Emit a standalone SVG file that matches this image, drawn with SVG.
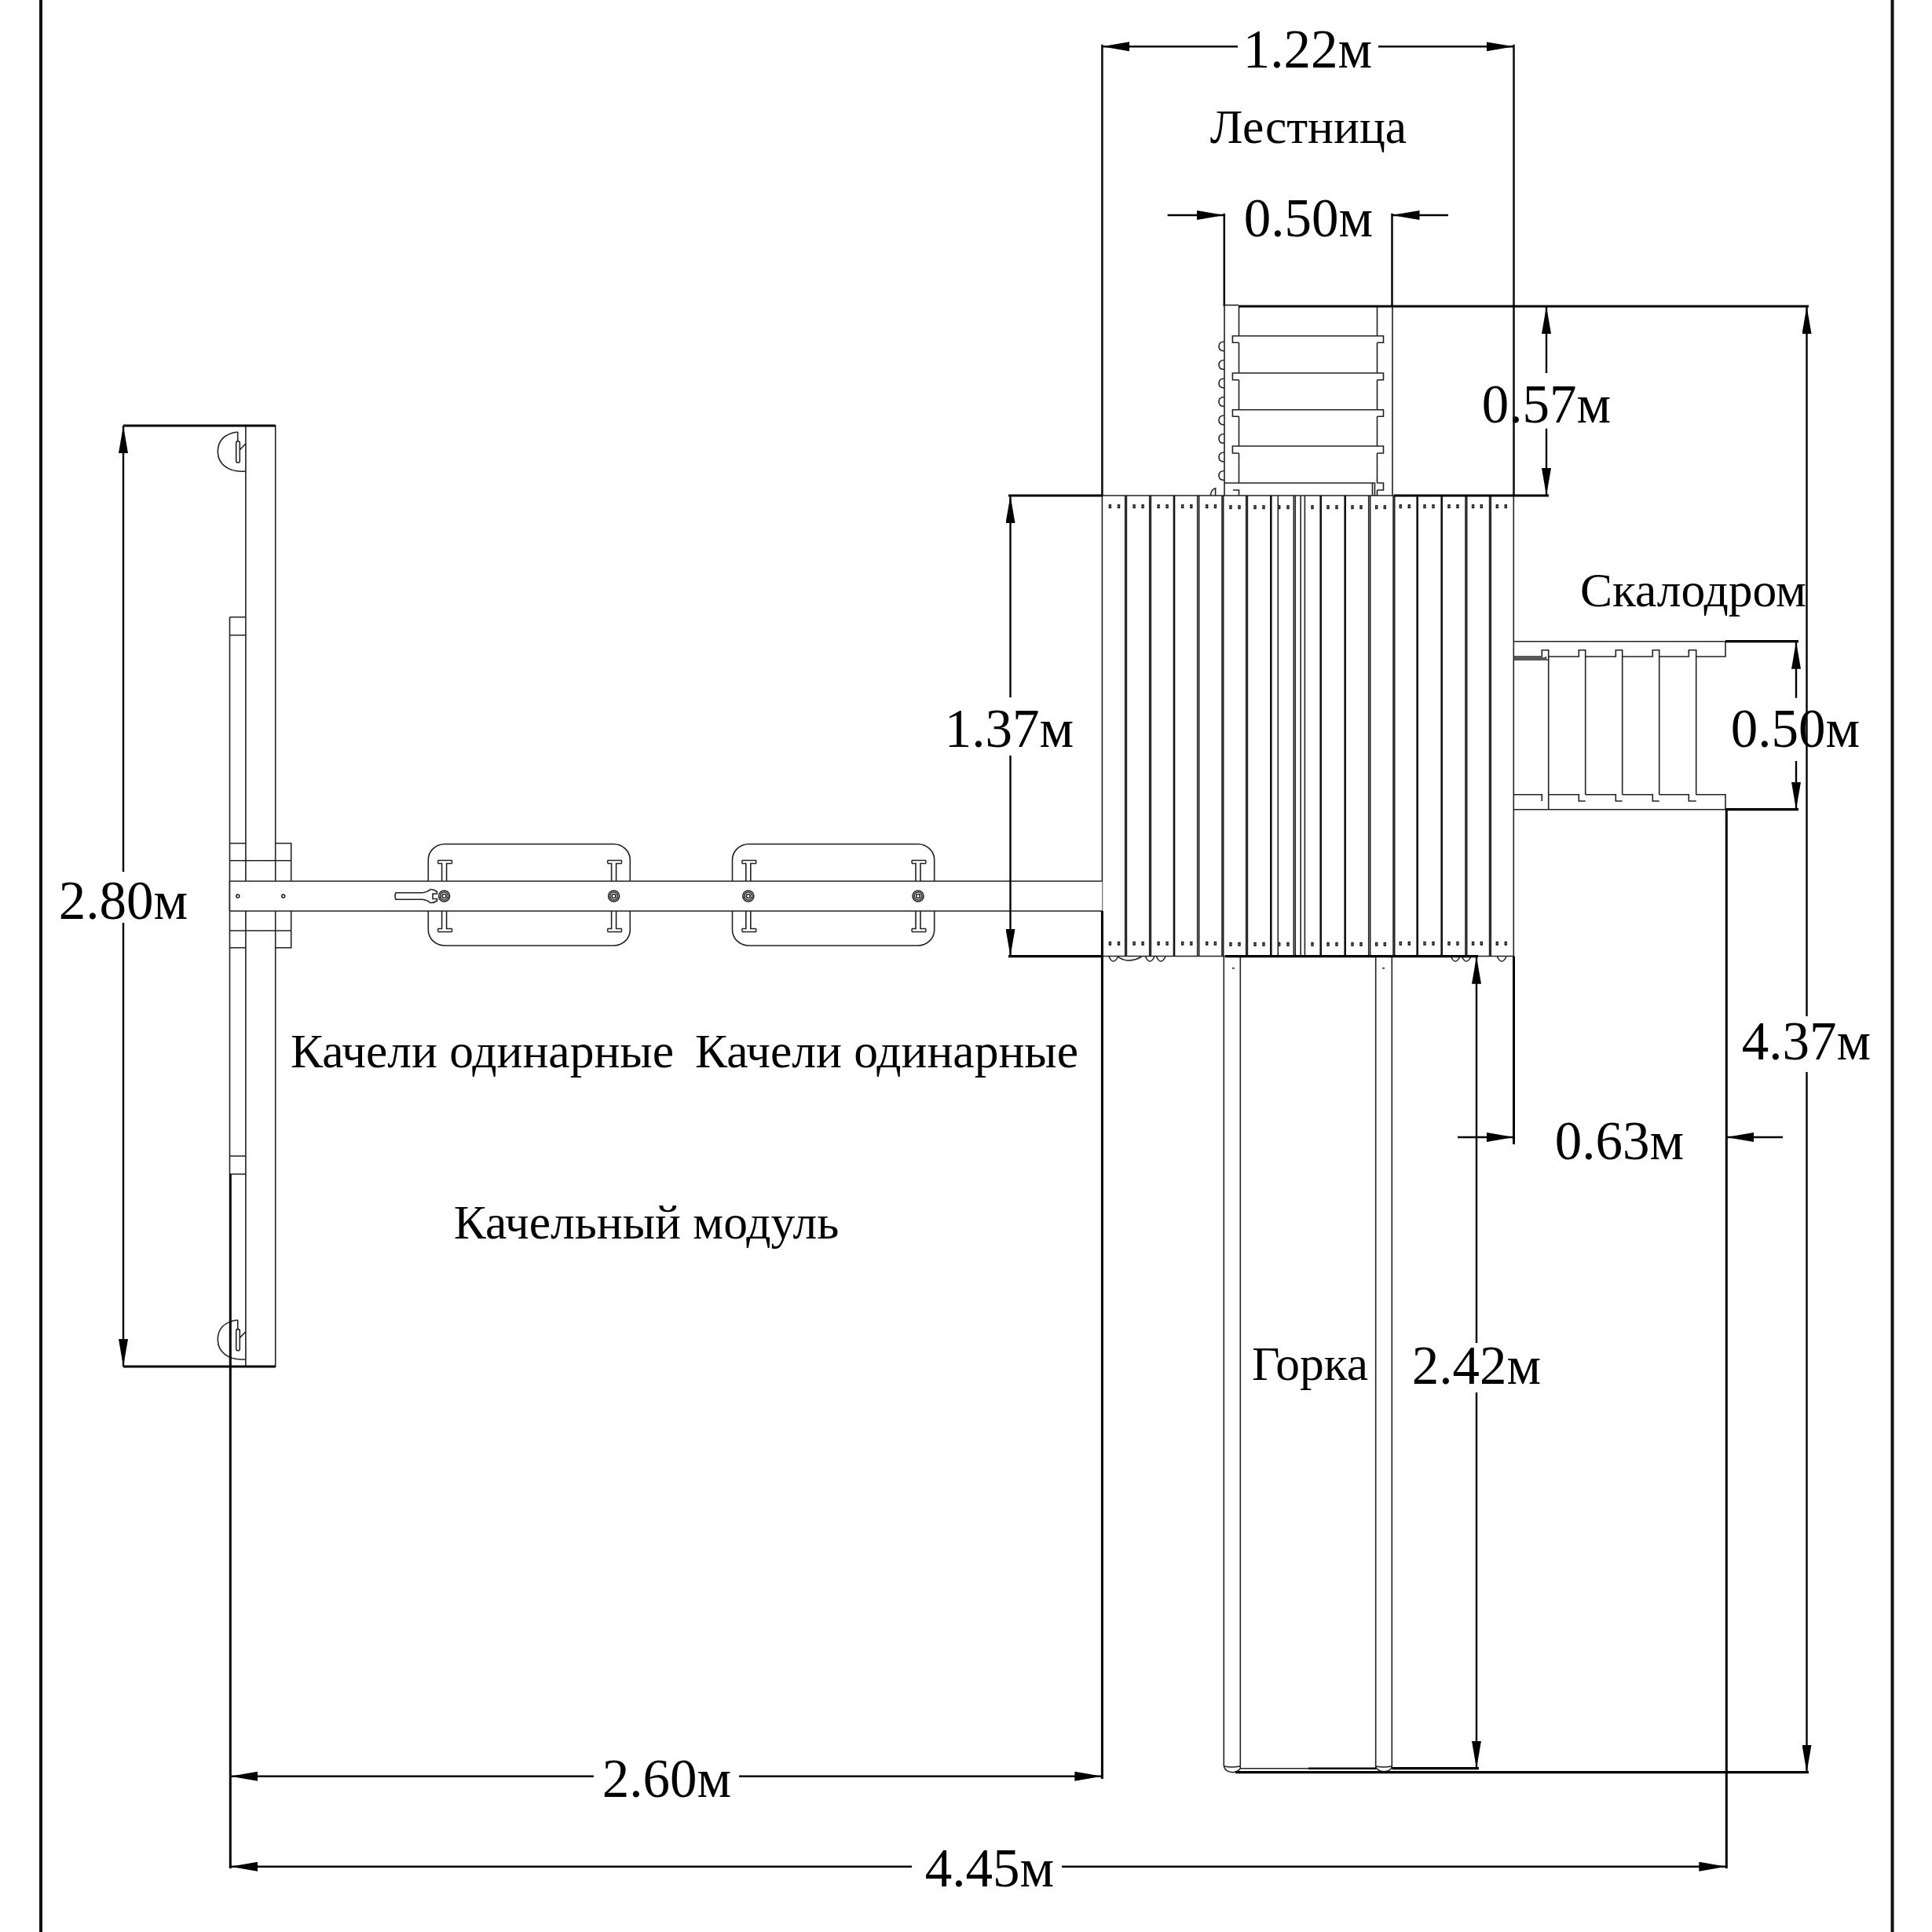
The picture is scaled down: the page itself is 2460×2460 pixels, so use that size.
<svg xmlns="http://www.w3.org/2000/svg" xmlns:xlink="http://www.w3.org/1999/xlink" width="2460" height="2460" viewBox="0 0 2460 2460">
<style>
.t{fill:none;stroke:#222;stroke-width:1.6}
.m{fill:none;stroke:#111;stroke-width:2.6}
.k{fill:none;stroke:#000;stroke-width:3.2}
.w{fill:#fff;stroke:#222;stroke-width:1.6}
.a{fill:none;stroke:#000;stroke-width:2.4;marker-end:url(#arrow)}
.d{font-family:"Liberation Serif","Times New Roman",serif;font-size:69px;fill:#000;text-anchor:middle}
.l{font-family:"Liberation Serif","Times New Roman",serif;font-size:61.500px;fill:#000;text-anchor:middle}
.h{fill:none;stroke:#111;stroke-width:1.4}
</style>
<defs>
<marker id="arrow" markerUnits="userSpaceOnUse" viewBox="0 0 35 12" refX="35" refY="6" markerWidth="35" markerHeight="12" orient="auto"><path d="M0 0L35 6L0 12z" fill="#000"/></marker>
<g id="hanger"><path class="t" d="M302.700 550V562M302.700 550C285 552 277.300 562 277.300 575C277.300 590 290 602 312.700 600M305.300 572.700L312.700 565"/><rect class="t" x="300.700" y="561.700" width="4.600" height="27.300" rx="2.300"/></g>
<g id="nut"><circle class="t" r="7"/><circle class="t" r="5"/><circle class="t" r="2.500"/></g>
<path id="ibar" class="t" d="M-3 0V-22.500H-7.500Q-9 -24.500 -7.500 -26.500H9.500Q11 -24.500 9.500 -22.500H3V0M-3 38V60.500H-7.500Q-9 62.500 -7.500 64.500H9.500Q11 62.500 9.500 60.500H3V38"/>
<path id="bump" class="t" d="M0 0Q5.500 12 11.500 0"/>
<path id="nub" class="t" d="M7 0Q0 0 0 6Q0 12 7 12"/>
</defs>
<rect width="2460" height="2460" fill="#fff"/>

<g id="frame"><path class="m" style="stroke-width:4" d="M52 0V2460M2409.500 0V2460"/></g>

<g id="node-ladder">
<path class="t" d="M1559 390V631M1773 390V631M1577.500 390V427.700M1753.500 390V427.700"/>
<path class="t" d="M1577.500 436.300V475M1753.500 436.300V475M1577.500 483.700V521.700M1753.500 483.700V521.700M1577.500 530.300V568M1753.500 530.300V568M1577.500 577V615M1753.500 577V615"/>
<path class="t" d="M1577.500 436.300H1569.400V427.700H1761.500V436.300H1753.500M1577.500 483.700H1569.400V475H1761.500V483.700H1753.500M1577.500 530.300H1569.400V521.700H1761.500V530.300H1753.500M1577.500 577H1569.400V568H1761.500V577H1753.500"/>
<path class="t" d="M1559 615H1750.500V631M1747.500 615V631M1753.500 615H1761.500V624H1753.500M1753.500 624V631M1570 624H1577.500V631M1547.600 631V621.700Q1542 623 1541.500 631"/>
<use xlink:href="#nub" href="#nub" x="1552" y="435"/><use xlink:href="#nub" href="#nub" x="1552" y="458.500"/><use xlink:href="#nub" href="#nub" x="1552" y="482"/><use xlink:href="#nub" href="#nub" x="1552" y="505.500"/><use xlink:href="#nub" href="#nub" x="1552" y="529"/><use xlink:href="#nub" href="#nub" x="1552" y="552.500"/><use xlink:href="#nub" href="#nub" x="1552" y="576"/><use xlink:href="#nub" href="#nub" x="1552" y="599.500"/>
</g>

<g id="node-platform">
<path class="t" d="M1403.400 631H1927.300M1403.400 631V1217.500M1927.300 631V1217.500M1403.400 1217.500H1927.300"/>
<path class="t" d="M1432.700 631V1217.500M1434.400 631V1217.500M1463.700 631V1217.500M1465.400 631V1217.500M1524.700 631V1217.500M1526.700 631V1217.500M1556 631V1217.500M1557.700 631V1217.500M1586.700 631V1217.500M1588.400 631V1217.500M1627.300 631V1217.500M1647.300 631V1217.500M1649.300 631V1217.500M1656.200 631V1217.500M1661.400 631V1217.500M1742.700 631V1217.500M1744.700 631V1217.500M1774 631V1217.500M1775.700 631V1217.500M1866 631V1217.500M1867.700 631V1217.500M1896.600 631V1217.500M1898.300 631V1217.500"/>
<path class="m" d="M1495 631V1217.500M1618.300 631V1217.500M1681.700 631V1217.500M1712.700 631V1217.500M1804.700 631V1217.500M1835.700 631V1217.500"/>
<path class="h" d="M1412.400 643h2v3.500h-2zM1423.500 643h2v3.500h-2zM1443.100 643h2v3.500h-2zM1454.100 643h2v3.500h-2zM1474.100 643h2v3.500h-2zM1485.100 643h2v3.500h-2zM1504.700 643h2v3.500h-2zM1515.800 643h2v3.500h-2zM1535.700 643h2v3.500h-2zM1546.400 643h2v3.500h-2zM1566 644h2v3.500h-2zM1577 644h2v3.500h-2zM1597 644h2v3.500h-2zM1608 644h2v3.500h-2zM1627.700 644h2v3.500h-2zM1639 644h2v3.500h-2zM1670 644h2v3.500h-2zM1690 644h2v3.500h-2zM1701 644h2v3.500h-2zM1721 644h2v3.500h-2zM1732 644h2v3.500h-2zM1751.700 644h2v3.500h-2zM1762.300 644h2v3.500h-2zM1782.300 643h2v3.500h-2zM1793.300 643h2v3.500h-2zM1813 643h2v3.500h-2zM1824 643h2v3.500h-2zM1844 643h2v3.500h-2zM1855 643h2v3.500h-2zM1874.600 643h2v3.500h-2zM1885.300 643h2v3.500h-2zM1905.300 643h2v3.500h-2zM1916.300 643h2v3.500h-2z"/>
<path class="h" d="M1412.400 1199.500h2v3.500h-2zM1423.500 1199.500h2v3.500h-2zM1443.100 1199.500h2v3.500h-2zM1454.100 1199.500h2v3.500h-2zM1474.100 1199.500h2v3.500h-2zM1485.100 1199.500h2v3.500h-2zM1504.700 1199.500h2v3.500h-2zM1515.800 1199.500h2v3.500h-2zM1535.700 1199.500h2v3.500h-2zM1546.400 1199.500h2v3.500h-2zM1566 1200.500h2v3.500h-2zM1577 1200.500h2v3.500h-2zM1597 1200.500h2v3.500h-2zM1608 1200.500h2v3.500h-2zM1627.700 1200.500h2v3.500h-2zM1639 1200.500h2v3.500h-2zM1670 1200.500h2v3.500h-2zM1690 1200.500h2v3.500h-2zM1701 1200.500h2v3.500h-2zM1721 1200.500h2v3.500h-2zM1732 1200.500h2v3.500h-2zM1751.700 1200.500h2v3.500h-2zM1762.300 1200.500h2v3.500h-2zM1782.300 1199.500h2v3.500h-2zM1793.300 1199.500h2v3.500h-2zM1813 1199.500h2v3.500h-2zM1824 1199.500h2v3.500h-2zM1844 1199.500h2v3.500h-2zM1855 1199.500h2v3.500h-2zM1874.600 1199.500h2v3.500h-2zM1885.300 1199.500h2v3.500h-2zM1905.300 1199.500h2v3.500h-2zM1916.300 1199.500h2v3.500h-2z"/>
<use xlink:href="#bump" href="#bump" x="1412" y="1218"/><path class="t" d="M1423.500 1218Q1428 1222 1436 1223Q1446 1223 1453.600 1218"/><use xlink:href="#bump" href="#bump" x="1458.500" y="1218"/><use xlink:href="#bump" href="#bump" x="1472.500" y="1218"/><use xlink:href="#bump" href="#bump" x="1847.500" y="1218"/><use xlink:href="#bump" href="#bump" x="1861.500" y="1218"/><use xlink:href="#bump" href="#bump" x="1906.500" y="1218"/>
</g>

<g id="node-climbing-wall">
<path class="t" d="M1927.300 816.700H2197V836H2159.700V827.700H2150.300V836H2112.700V827.700H2104.300V836H2065.700V827.700H2057.300V836H2018.700V827.700H2010.300V836H1971.700V827.700H1963.300V836H1927.300"/>
<path class="t" d="M1927.300 838H1968.300V836M1927.300 840H1971.700M1971.700 836V1030.700M2018.700 836V1011.700M2065.700 836V1011.700M2112.700 836V1011.700M2159.700 836V1011.700"/>
<path class="t" d="M1927.300 1011.700H1963.300V1020M1971.700 1011.700H2010.300V1020H2018.700M2018.700 1011.700H2057.300V1020H2065.700M2065.700 1011.700H2104.300V1020H2112.700M2112.700 1011.700H2150.300V1020H2159.700M2159.700 1011.700H2197V1030.700H1927.300"/>
</g>

<g id="node-slide">
<path class="t" d="M1558.300 1217.500V2248Q1559 2256 1570 2256.700Q1577 2256 1579.300 2251.700V1217.500M1579.300 2251.700H1751.700M1559 2249Q1568 2251 1578.500 2249"/>
<path class="t" d="M1751.700 1217.500V2250Q1755 2255.700 1762 2255.700Q1770 2255.700 1772.300 2250V1217.500M1752 2249Q1762 2251 1772 2249M1569 1232.700h3M1760 1232.700h3"/>
<path class="k" style="stroke-width:2.600" d="M1666 2251.700H1752"/>
</g>

<g id="node-swing-frame">
<rect class="t" x="312.900" y="542" width="37.800" height="1198"/>
<path class="t" d="M292.500 785.700H312.900M292.500 785.700V1495H312.900M292.500 808.700H312.900M292.500 1472H312.900"/>
<path class="t" d="M292.500 1073.700H312.900M350.700 1073.700H370.700V1206.700H350.700M292.500 1095.700H370.700M292.500 1185H370.700M292.500 1206.700H312.900"/>
<use xlink:href="#hanger" href="#hanger"/><use xlink:href="#hanger" href="#hanger" y="1130.700"/>
</g>

<g id="node-swing-1">
<rect class="w" x="545.300" y="1074.700" width="257" height="129.300" rx="21" ry="20"/>
<use xlink:href="#ibar" href="#ibar" x="565.600" y="1122"/><use xlink:href="#ibar" href="#ibar" x="781.600" y="1122"/>
</g>
<g id="node-swing-2">
<rect class="w" x="932.500" y="1074.700" width="257.200" height="129.300" rx="21" ry="20"/>
<use xlink:href="#ibar" href="#ibar" x="952.800" y="1122"/><use xlink:href="#ibar" href="#ibar" x="1169" y="1122"/>
</g>
<g id="node-swing-beam">
<rect x="292.500" y="1122" width="1110.900" height="38" fill="#fff" stroke="none"/>
<path class="t" d="M292.500 1122H1403.400M292.500 1160H1403.400M292.500 1122V1160"/>
<circle class="h" cx="302.800" cy="1141" r="2"/><circle class="h" cx="360.700" cy="1141" r="2"/>
<use xlink:href="#nut" href="#nut" x="565.600" y="1141"/><use xlink:href="#nut" href="#nut" x="781.600" y="1141"/><use xlink:href="#nut" href="#nut" x="952.800" y="1141"/><use xlink:href="#nut" href="#nut" x="1169" y="1141"/>
<path class="w" d="M504 1136.700H538Q544 1136 548 1132.500Q552 1132 556.500 1135.500V1138H551V1144.500H556.500V1147Q552 1150 548 1149.500Q544 1146 538 1145.300H504Q502 1141 504 1136.700Z"/>
</g>

<g id="connectors">
<path class="m" d="M1403.400 56.700V631M1927.500 56.700V631"/>
<line class="a" x1="1576" y1="59.300" x2="1403.400" y2="59.300"/><line class="a" x1="1755" y1="59.300" x2="1927.500" y2="59.300"/>
<path class="m" d="M1558.800 271.700V390M1772.500 271.700V390"/>
<line class="a" x1="1486.600" y1="274" x2="1558.800" y2="274"/><line class="a" x1="1844" y1="274" x2="1772.500" y2="274"/>
<path class="k" d="M1577 390H2303M1775 631H1972"/><path class="t" d="M1559 388.500H1577"/>
<line class="a" x1="1969" y1="475" x2="1969" y2="390"/><line class="a" x1="1969" y1="545.700" x2="1969" y2="631"/>
<path class="k" d="M1284 631H1404M1284 1217.700H1404M1560 1217.700H1882"/>
<line class="a" x1="1286.500" y1="888" x2="1286.500" y2="631"/><line class="a" x1="1286.500" y1="962" x2="1286.500" y2="1217.700"/>
<path class="k" d="M157 542H350.700M157 1740H350.700"/>
<line class="a" x1="157" y1="1110" x2="157" y2="542"/><line class="a" x1="157" y1="1175" x2="157" y2="1740"/>
<path class="k" style="stroke-width:3" d="M293.300 1495V2379M1403.400 1160V2265M2198.300 1030.700V2379M1927.500 1217.500V1457"/>
<line class="a" x1="756" y1="2261.700" x2="293.300" y2="2261.700"/><line class="a" x1="941" y1="2261.700" x2="1403.400" y2="2261.700"/>
<line class="a" x1="1161" y1="2376.700" x2="293.300" y2="2376.700"/><line class="a" x1="1352" y1="2376.700" x2="2198.300" y2="2376.700"/>
<line class="a" x1="1880" y1="1710" x2="1880" y2="1217.700"/><line class="a" x1="1880" y1="1773" x2="1880" y2="2251.700"/>
<path class="k" d="M1772.300 2251.700H1883M1573 2256.700H2303M2197 816.700H2290M2197 1030.700H2290"/>
<line class="a" x1="2300.500" y1="1294" x2="2300.500" y2="390"/><line class="a" x1="2300.500" y1="1365" x2="2300.500" y2="2256.700"/>
<line class="a" x1="2287" y1="888.700" x2="2287" y2="816.700"/><line class="a" x1="2287" y1="969" x2="2287" y2="1030.700"/>
<line class="a" x1="1856" y1="1448" x2="1927.500" y2="1448"/><line class="a" x1="2270" y1="1448" x2="2198.300" y2="1448"/>
</g>

<g id="dimension-labels">
<text class="d" x="1665" y="85.500">1.22м</text>
<text class="d" x="1666" y="300.700">0.50м</text>
<text class="d" x="1969" y="538">0.57м</text>
<text class="d" x="1285" y="951">1.37м</text>
<text class="d" x="2286" y="951">0.50м</text>
<text class="d" x="157" y="1170">2.80м</text>
<text class="d" x="2300" y="1349">4.37м</text>
<text class="d" x="2062" y="1476">0.63м</text>
<text class="d" x="1880" y="1762">2.42м</text>
<text class="d" x="849" y="2288">2.60м</text>
<text class="d" x="1260" y="2402">4.45м</text>
</g>
<g id="name-labels">
<text class="l" x="1666" y="181.700">Лестница</text>
<text class="l" x="2156" y="772">Скалодром</text>
<text class="l" x="614" y="1359">Качели одинарные</text>
<text class="l" x="1129" y="1359">Качели одинарные</text>
<text class="l" x="823" y="1577">Качельный модуль</text>
<text class="l" x="1668" y="1757">Горка</text>
</g>
</svg>
